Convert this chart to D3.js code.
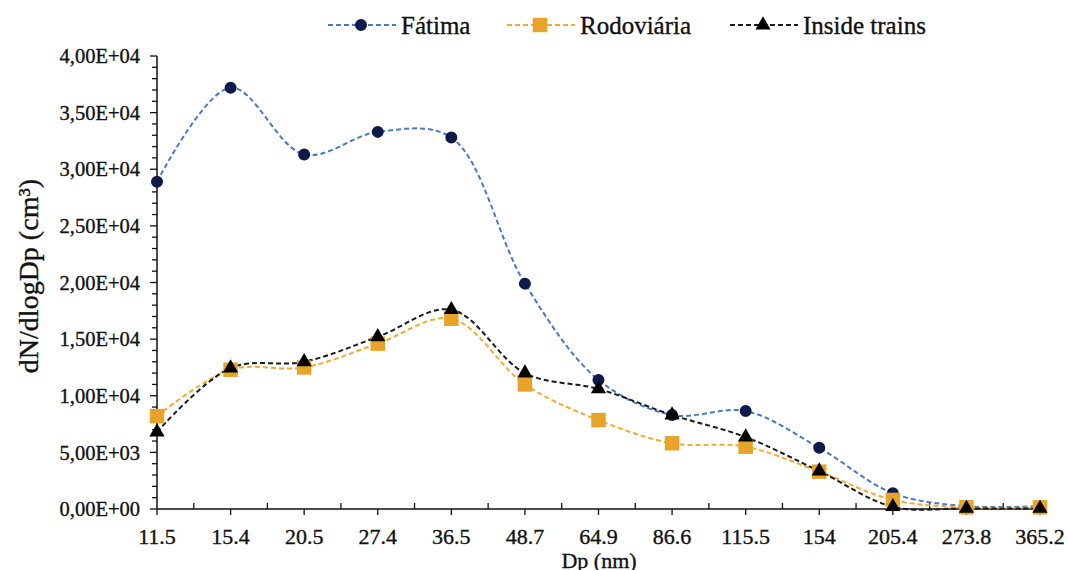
<!DOCTYPE html>
<html>
<head>
<meta charset="utf-8">
<script src="https://cdn.jsdelivr.net/npm/d3@7"></script>
<style>
  html, body { margin: 0; padding: 0; background: #fff; overflow: hidden; }
  svg { display: block; }
  text { font-family: "Liberation Serif", "DejaVu Serif", serif; fill: #111; stroke: #111; stroke-width: 0.35px; }
</style>
</head>
<body>
<svg width="1068" height="570"></svg>
<script>
// ---- Dados
const diametros = ['11.5', '15.4', '20.5', '27.4', '36.5', '48.7', '64.9', '86.6', '115.5', '154', '205.4', '273.8', '365.2'];
const fatima = [28900, 37200, 31300, 33300, 32800, 19900, 11400, 8300, 8650, 5400, 1400, 250, 250];
const rodoviaria = [8200, 12300, 12500, 14600, 16800, 11000, 7850, 5800, 5500, 3300, 800, 150, 150];
const insideTrains = [6800, 12450, 13000, 15200, 17600, 12000, 10600, 8300, 6350, 3350, 200, 50, 50];
const yTicks = [0, 5000, 10000, 15000, 20000, 25000, 30000, 35000, 40000];

const series = [
    { nome: 'Fátima', valores: fatima, linha: '#4a78c8', marca: '#0d1a4a', simbolo: d3.symbolCircle, tamanho: 113 },
    { nome: 'Rodoviária', valores: rodoviaria, linha: '#f2ab2e', marca: '#e8a32a', simbolo: d3.symbolSquare, tamanho: 210 },
    { nome: 'Inside trains', valores: insideTrains, linha: '#1a1a1a', marca: '#000', simbolo: d3.symbolTriangle, tamanho: 100 }
];

const margens = { left: 157, right: 28, top: 56, bottom: 61 };
const svg = d3.select('svg');
const width = +svg.attr('width');
const height = +svg.attr('height');
const innerWidth = width - margens.left - margens.right;
const innerHeight = height - margens.top - margens.bottom;

// ---- Escalas
const mapX = d3.scalePoint().domain(diametros).range([0, innerWidth]).padding(0);
const mapY = d3.scaleLinear().domain([0, 40000]).range([innerHeight, 0]);

const g = svg.append('g').attr('transform', `translate(${margens.left}, ${margens.top})`);

// formato 4,00E+04
function formatoExp(v) {
    const [m, e] = v.toExponential(2).split('e');
    const sinal = e[0] === '-' ? '-' : '+';
    const num = e.replace(/[+-]/, '').padStart(2, '0');
    return m.replace('.', ',') + 'E' + sinal + num;
}

// ---- Eixo Y
const eixoY = g.append('g').attr('class', 'eixo-y');
eixoY.append('line')
    .attr('x1', 0).attr('x2', 0).attr('y1', 0).attr('y2', innerHeight)
    .attr('stroke', '#111').attr('stroke-width', 1.5);
eixoY.selectAll('.menor')
    .data(d3.range(0, 40001, 1000))
    .enter().append('line')
    .attr('x1', d => d % 5000 === 0 ? -7 : -5).attr('x2', 0)
    .attr('y1', d => mapY(d)).attr('y2', d => mapY(d))
    .attr('stroke', '#111').attr('stroke-width', 1.3);
eixoY.selectAll('.rotulo')
    .data(yTicks)
    .enter().append('text')
    .attr('x', -17)
    .attr('y', d => mapY(d))
    .attr('dy', '0.35em')
    .attr('text-anchor', 'end')
    .style('font-size', '20.5px')
    .text(formatoExp);

// ---- Eixo X
const eixoX = g.append('g').attr('class', 'eixo-x').attr('transform', `translate(0, ${innerHeight})`);
eixoX.append('line')
    .attr('x1', 0).attr('x2', innerWidth)
    .attr('stroke', '#111').attr('stroke-width', 1.5);
eixoX.selectAll('.maior')
    .data(diametros)
    .enter().append('line')
    .attr('x1', d => mapX(d)).attr('x2', d => mapX(d))
    .attr('y1', 0).attr('y2', 6)
    .attr('stroke', '#111').attr('stroke-width', 1.3);
eixoX.selectAll('.menor')
    .data(diametros.slice(1))
    .enter().append('line')
    .attr('x1', (d, i) => (mapX(d) + mapX(diametros[i])) / 2)
    .attr('x2', (d, i) => (mapX(d) + mapX(diametros[i])) / 2)
    .attr('y1', 0).attr('y2', -6)
    .attr('stroke', '#111').attr('stroke-width', 1.3);
eixoX.selectAll('.rotulo')
    .data(diametros)
    .enter().append('text')
    .attr('x', d => mapX(d))
    .attr('y', 35)
    .attr('text-anchor', 'middle')
    .style('font-size', '22px')
    .text(d => d);

// ---- Títulos dos eixos
g.append('text')
    .attr('x', 599 - margens.left)
    .attr('y', innerHeight + 59)
    .attr('text-anchor', 'middle')
    .style('font-size', '22px')
    .text('Dp (nm)');

g.append('text')
    .attr('transform', 'rotate(-90)')
    .attr('x', -(276 - margens.top))
    .attr('y', 38 - margens.left)
    .attr('text-anchor', 'middle')
    .style('font-size', '28px')
    .text('dN/dlogDp (cm³)');

// ---- Linhas e marcadores
const linha = d3.line()
    .x((d, i) => mapX(diametros[i]))
    .y(d => mapY(d))
    .curve(d3.curveCatmullRom.alpha(0.5));

series.forEach(s => {
    g.append('path')
        .datum(s.valores)
        .attr('d', linha)
        .attr('fill', 'none')
        .attr('stroke', s.linha)
        .attr('stroke-width', 2)
        .attr('stroke-dasharray', '5,3');
});

series.forEach(s => {
    g.selectAll(null)
        .data(s.valores)
        .enter().append('path')
        .attr('d', d3.symbol().type(s.simbolo).size(s.tamanho))
        .attr('transform', (d, i) => `translate(${mapX(diametros[i])}, ${mapY(d)})`)
        .attr('fill', s.marca);
});

// ---- Legenda
const legendaX = [328, 507, 730];
const legenda = svg.append('g').attr('class', 'legenda');
series.forEach((s, i) => {
    const item = legenda.append('g').attr('transform', `translate(${legendaX[i]}, 25)`);
    item.append('line')
        .attr('x1', 0).attr('x2', 68)
        .attr('stroke', s.linha).attr('stroke-width', 2)
        .attr('stroke-dasharray', '5,3');
    item.append('path')
        .attr('d', d3.symbol().type(s.simbolo).size(s.tamanho))
        .attr('transform', 'translate(33, 0)')
        .attr('fill', s.marca);
    item.append('text')
        .attr('x', 73)
        .attr('dy', '0.35em')
        .style('font-size', '25px')
        .text(s.nome);
});
</script>
</body>
</html>
